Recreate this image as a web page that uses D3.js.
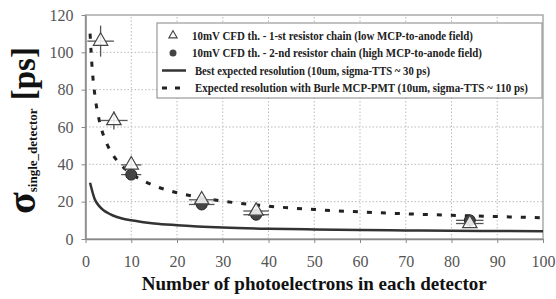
<!DOCTYPE html>
<html lang="en">
<head>
    <meta charset="UTF-8">
    <title>Time resolution vs photoelectrons</title>
    <script src="https://d3js.org/d3.v7.min.js"></script>
    <style>
        body { margin: 0; padding: 0; background: #fff; }
        svg { display: block; }
        svg text { font-family: "Liberation Serif", "Times New Roman", serif; }
        .tick text { font-size: 16px; fill: #555; }
        .legend text { font-size: 11.5px; font-weight: bold; fill: #222; }
    </style>
</head>
<body>
    <div id="chart"></div>
    <script>
        // data
        const xTicks = [0, 10, 20, 30, 40, 50, 60, 70, 80, 90, 100];
        const yTicks = [0, 20, 40, 60, 80, 100, 120];

        // 1-st resistor chain (triangles): x, y, x error, y error
        const chain1X = [3.3, 6.2, 10, 25.4, 37.3, 84];
        const chain1Y = [106, 63.5, 39.7, 21, 15, 8.3];
        const chain1Ex = [2.9, 3, 2.2, 2.8, 2.8, 3];
        const chain1Ey = [8.3, 4.8, 3.5, 2.5, 2.5, 2];

        // 2-nd resistor chain (circles)
        const chain2X = [10, 25.4, 37.3, 84];
        const chain2Y = [34.5, 18.5, 13, 10];
        const chain2Ex = [2.2, 2.8, 2.8, 3];

        // best expected resolution curve
        const bestN = [1, 2, 3, 4, 5, 6, 8, 10, 15, 20, 30, 40, 50, 60, 70, 80, 90, 100];
        const bestY = [30.1, 21.4, 17.6, 15.3, 13.8, 12.6, 11.0, 10.0, 8.3, 7.4, 6.2, 5.5, 5.1, 4.8, 4.6, 4.4, 4.3, 4.2];

        // Burle MCP-PMT expectation curve
        const burleN = [1, 1.5, 2, 3, 4, 5, 6, 8, 10, 15, 20, 25, 30, 40, 50, 60, 70, 80, 90, 100];
        const burleY = [110, 90, 78, 63.6, 55, 49.3, 45, 39, 35, 28.6, 24.8, 22.2, 20.3, 17.6, 15.8, 14.5, 13.5, 12.7, 12.0, 11.4];

        const legendLabels = [
            "10mV CFD th. - 1-st resistor chain (low MCP-to-anode field)",
            "10mV CFD th. - 2-nd resistor chain (high MCP-to-anode field)",
            "Best expected resolution (10um, sigma-TTS ~ 30 ps)",
            "Expected resolution with Burle MCP-PMT (10um, sigma-TTS ~ 110 ps)"
        ];

        const width = 556, height = 299;
        const margin = { left: 85.5, right: 13, top: 15, bottom: 60 };
        const serif = '"Liberation Serif", "Times New Roman", serif';

        const svg = d3.select("#chart").append("svg")
            .attr("width", width)
            .attr("height", height);

        const x = d3.scaleLinear().domain([0, 100]).range([margin.left, width - margin.right]);
        const y = d3.scaleLinear().domain([0, 120]).range([height - margin.bottom, margin.top]);

        // dotted grid
        svg.append("g")
            .selectAll("line")
            .data(xTicks.slice(1, -1))
            .enter().append("line")
            .attr("x1", d => x(d)).attr("x2", d => x(d))
            .attr("y1", y(0)).attr("y2", y(120))
            .attr("stroke", "#bbb").attr("stroke-dasharray", "1.5,2");

        svg.append("g")
            .selectAll("line")
            .data(yTicks.slice(1, -1))
            .enter().append("line")
            .attr("x1", x(0)).attr("x2", x(100))
            .attr("y1", d => y(d)).attr("y2", d => y(d))
            .attr("stroke", "#bbb").attr("stroke-dasharray", "1.5,2");

        // frame
        svg.append("rect")
            .attr("x", x(0)).attr("y", y(120))
            .attr("width", x(100) - x(0)).attr("height", y(0) - y(120))
            .attr("fill", "none").attr("stroke", "#aaa").attr("stroke-width", 1.5);

        // axes
        const xAxis = svg.append("g")
            .attr("transform", `translate(0,${y(0)})`)
            .call(d3.axisBottom(x).tickValues(xTicks).tickSize(4).tickPadding(13).tickSizeOuter(0));
        const yAxis = svg.append("g")
            .attr("transform", `translate(${x(0)},0)`)
            .call(d3.axisLeft(y).tickValues(yTicks).tickSize(4).tickPadding(8).tickSizeOuter(0));
        [xAxis, yAxis].forEach(a => {
            a.attr("font-family", serif).attr("font-size", 16);
            a.select(".domain").attr("stroke", "#888").attr("stroke-width", 1.5);
            a.selectAll(".tick line").attr("stroke", "#888");
            a.selectAll(".tick text").attr("fill", "#555");
        });

        // curves
        const line = d3.line()
            .x(d => x(d[0]))
            .y(d => y(d[1]))
            .curve(d3.curveMonotoneX);

        svg.append("path")
            .datum(bestN.map((n, i) => [n, bestY[i]]))
            .attr("d", line)
            .attr("fill", "none").attr("stroke", "#333").attr("stroke-width", 2.5);

        svg.append("path")
            .datum(burleN.map((n, i) => [n, burleY[i]]))
            .attr("d", line)
            .attr("fill", "none").attr("stroke", "#222").attr("stroke-width", 3)
            .attr("stroke-dasharray", "5,9");

        // error bars
        const bars = svg.append("g").attr("stroke", "#555").attr("stroke-width", 1.3);
        chain1X.forEach((xv, i) => {
            bars.append("line")
                .attr("x1", x(xv - chain1Ex[i])).attr("x2", x(xv + chain1Ex[i]))
                .attr("y1", y(chain1Y[i])).attr("y2", y(chain1Y[i]));
            bars.append("line")
                .attr("x1", x(xv)).attr("x2", x(xv))
                .attr("y1", y(chain1Y[i] - chain1Ey[i])).attr("y2", y(chain1Y[i] + chain1Ey[i]));
        });
        chain2X.forEach((xv, i) => {
            bars.append("line")
                .attr("x1", x(xv - chain2Ex[i])).attr("x2", x(xv + chain2Ex[i]))
                .attr("y1", y(chain2Y[i])).attr("y2", y(chain2Y[i]));
        });

        const tri = d3.symbol().type(d3.symbolTriangle).size(90);

        // circles (2-nd chain)
        svg.append("g")
            .selectAll("circle")
            .data(chain2X)
            .enter().append("circle")
            .attr("cx", d => x(d))
            .attr("cy", (d, i) => y(chain2Y[i]))
            .attr("r", 5.5)
            .attr("fill", "#444").attr("stroke", "#222").attr("stroke-width", 1);

        // triangles (1-st chain)
        svg.append("g")
            .selectAll("path")
            .data(chain1X)
            .enter().append("path")
            .attr("d", tri)
            .attr("transform", (d, i) => `translate(${x(d)},${y(chain1Y[i])})`)
            .attr("fill", "#fff").attr("fill-opacity", 0.85)
            .attr("stroke", "#444").attr("stroke-width", 1.2);

        // legend
        const lg = svg.append("g").attr("class", "legend");
        lg.append("rect")
            .attr("x", 157).attr("y", 23)
            .attr("width", 385).attr("height", 75)
            .attr("fill", "#fff").attr("stroke", "#999").attr("stroke-width", 1.2);

        const rowY = [35.5, 53, 70.5, 88];
        const rowW = [281, 290, 235, 333];
        lg.append("path")
            .attr("d", d3.symbol().type(d3.symbolTriangle).size(30))
            .attr("transform", `translate(173,${rowY[0]})`)
            .attr("fill", "#fff").attr("stroke", "#444").attr("stroke-width", 1.1);
        lg.append("circle")
            .attr("cx", 173).attr("cy", rowY[1]).attr("r", 3.5)
            .attr("fill", "#444");
        lg.append("line")
            .attr("x1", 162).attr("x2", 186).attr("y1", rowY[2]).attr("y2", rowY[2])
            .attr("stroke", "#333").attr("stroke-width", 2.5);
        lg.append("line")
            .attr("x1", 162).attr("x2", 186).attr("y1", rowY[3]).attr("y2", rowY[3])
            .attr("stroke", "#222").attr("stroke-width", 3).attr("stroke-dasharray", "5,8");

        lg.selectAll("text.lab")
            .data(legendLabels)
            .enter().append("text")
            .attr("class", "lab")
            .attr("x", (d, i) => i < 2 ? 192 : 195)
            .attr("y", (d, i) => rowY[i] + 4)
            .attr("font-family", serif)
            .attr("textLength", (d, i) => rowW[i])
            .attr("lengthAdjust", "spacingAndGlyphs")
            .text(d => d);

        // axis titles
        svg.append("text")
            .attr("x", (x(0) + x(100)) / 2)
            .attr("y", 290)
            .attr("text-anchor", "middle")
            .attr("font-family", serif)
            .attr("font-weight", "bold")
            .attr("font-size", 19)
            .attr("fill", "#111")
            .text("Number of photoelectrons in each detector");

        const yt = svg.append("text")
            .attr("transform", "translate(35,214) rotate(-90)")
            .attr("font-family", serif)
            .attr("font-weight", "bold")
            .attr("fill", "#111");
        yt.append("tspan").attr("font-size", 40).text("σ");
        yt.append("tspan").attr("font-size", 13).attr("dy", 2).text("single_detector");
        yt.append("tspan").attr("font-size", 33).attr("dy", -2).text(" [ps]");
    </script>
</body>
</html>
